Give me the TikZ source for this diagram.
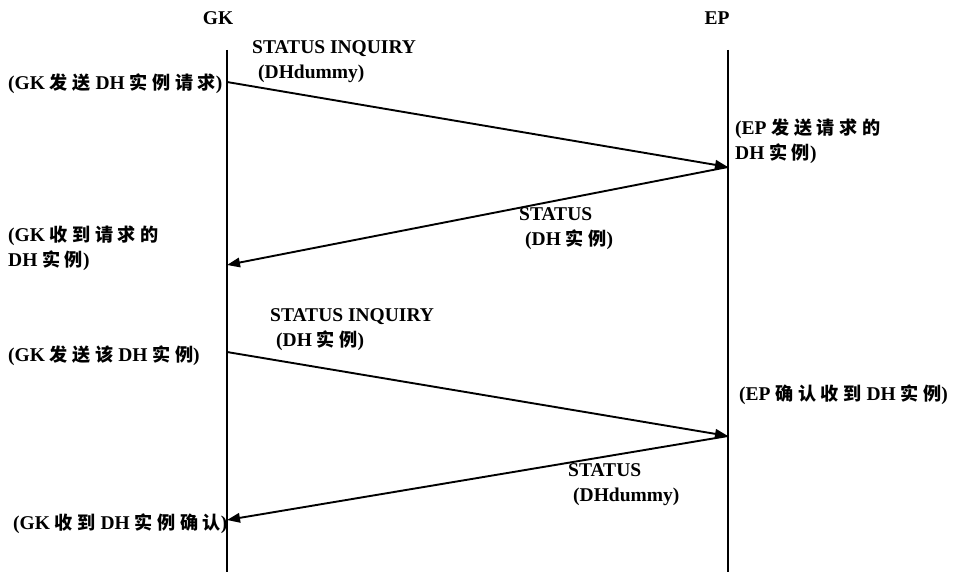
\documentclass[tikz,border=0pt]{standalone}
\usepackage{fontspec}
\setmainfont{Liberation Serif}
\newfontfamily\cjk[Scale=0.93,LetterSpace=25]{Noto Sans CJK SC}
\usetikzlibrary{arrows.meta}
\newcommand\zh[1]{{\cjk\bfseries #1}}
\begin{document}
\begin{tikzpicture}[x=1pt,y=-1pt,
  every node/.style={inner sep=0pt, font=\fontsize{19.5}{25}\selectfont\bfseries},
  lbl/.style={anchor=west, align=left},
  lifeline/.style={line width=1.5pt},
  msg/.style={line width=1.9pt, -{Triangle[length=13pt,width=9.5pt]}}]
  \useasboundingbox (0,0) rectangle (953,572);

  % entity headers
  \node (gk) at (218,18) {GK};
  \node (ep) at (717,18) {EP};

  % lifelines
  \coordinate (gtop) at (227,50);  \coordinate (gbot) at (227,572);
  \coordinate (etop) at (728,50);  \coordinate (ebot) at (728,572);
  \draw[lifeline] (gtop) -- (gbot);
  \draw[lifeline] (etop) -- (ebot);

  % message end points on the lifelines
  \coordinate (g1) at (227,82);
  \coordinate (e1) at (728,167);
  \coordinate (g2) at (227,265);
  \coordinate (g3) at (227,352);
  \coordinate (e2) at (728,436);
  \coordinate (g4) at (227,520);

  % messages
  \draw[msg] (g1) -- (e1);
  \draw[msg] (e1) -- (g2);
  \draw[msg] (g3) -- (e2);
  \draw[msg] (e2) -- (g4);

  % message labels
  \node[lbl] (m1) at (252,62) {STATUS INQUIRY\\\hspace*{6pt}(DHdummy)};
  \node[lbl] (m2) at (519,229) {STATUS\\\hspace*{6pt}(DH \zh{实例})};
  \node[lbl] (m3) at (270,330) {STATUS INQUIRY\\\hspace*{6pt}(DH \zh{实例})};
  \node[lbl] (m4) at (568,485) {STATUS\\\hspace*{5pt}(DHdummy)};

  % state labels
  \node[lbl] (s1) at (8,84) {(GK \zh{发送} DH \zh{实例请求})};
  \node[lbl] (s2) at (735,141) {(EP \zh{发送请求的}\\DH \zh{实例})};
  \node[lbl] (s3) at (8,248) {(GK \zh{收到请求的}\\DH \zh{实例})};
  \node[lbl] (s4) at (8,356) {(GK \zh{发送该} DH \zh{实例})};
  \node[lbl] (s5) at (739,395) {(EP \zh{确认收到} DH \zh{实例})};
  \node[lbl] (s6) at (13,524) {(GK \zh{收到} DH \zh{实例确认})};
\end{tikzpicture}
\end{document}
